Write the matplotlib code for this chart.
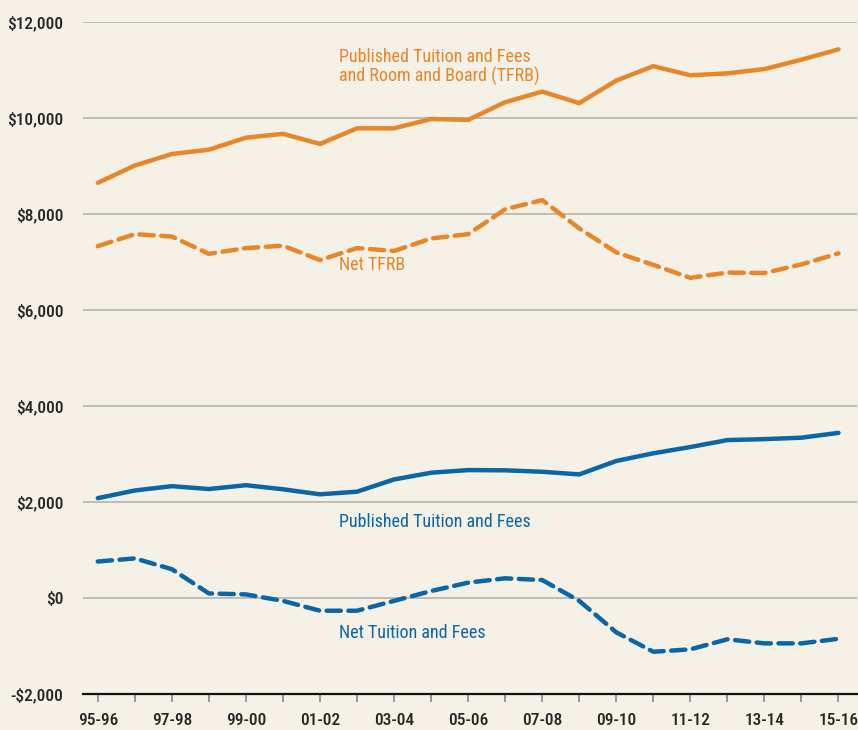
import matplotlib
matplotlib.use("Agg")
import matplotlib.pyplot as plt
from matplotlib import font_manager

years = ["95-96", "96-97", "97-98", "98-99", "99-00", "00-01", "01-02", "02-03",
         "03-04", "04-05", "05-06", "06-07", "07-08", "08-09", "09-10", "10-11",
         "11-12", "12-13", "13-14", "14-15", "15-16"]
published_tfrb = [8650, 9010, 9250, 9340, 9590, 9670, 9460, 9785, 9785, 9980, 9960,
                  10330, 10550, 10310, 10780, 11080, 10890, 10930, 11020, 11215, 11430]
net_tfrb = [7330, 7580, 7530, 7170, 7290, 7340, 7040, 7290, 7230, 7490, 7580,
            8100, 8290, 7700, 7200, 6940, 6670, 6780, 6770, 6950, 7180]
published_tf = [2080, 2240, 2330, 2270, 2350, 2265, 2160, 2215, 2470, 2610, 2665,
                2660, 2630, 2575, 2855, 3015, 3145, 3290, 3310, 3340, 3440]
net_tf = [760, 825, 600, 95, 75, -60, -265, -265, -60, 145, 320,
          410, 375, -60, -715, -1120, -1070, -860, -945, -945, -850]
ytick_vals = [-2000, 0, 2000, 4000, 6000, 8000, 10000, 12000]
ytick_labels = ["-$2,000", "$0", "$2,000", "$4,000", "$6,000", "$8,000", "$10,000", "$12,000"]

names = {f.name for f in font_manager.fontManager.ttflist}
fam = [f for f in ["Liberation Sans Narrow", "Roboto Condensed", "Roboto", "DejaVu Sans"] if f in names]
plt.rcParams['font.family'] = fam

BG = "#F6F1E6"
ORANGE = "#E8862A"
BLUE = "#0A66A6"
TXT = "#262626"

fig = plt.figure(figsize=(8.58, 7.30), dpi=100, facecolor=BG)
ax = fig.add_axes([83/858, 36/730, 774/858, 672/730], facecolor=BG)

x = list(range(len(years)))
lw = 3.2
ax.plot(x, published_tfrb, color=ORANGE, lw=lw, solid_capstyle='round', zorder=3)
ax.plot(x, net_tfrb, color=ORANGE, lw=lw, dashes=(3.2, 1.7), dash_capstyle='round', zorder=3)
ax.plot(x, published_tf, color=BLUE, lw=lw, solid_capstyle='round', zorder=3)
ax.plot(x, net_tf, color=BLUE, lw=lw, dashes=(3.2, 1.7), dash_capstyle='round', zorder=3)

ax.set_xlim(-0.4, 20.5)
ax.set_ylim(-2000, 12000)
ax.set_yticks(ytick_vals)
ax.set_yticklabels(ytick_labels)
ax.set_xticks(x)
ax.set_xticklabels([y if i % 2 == 0 else "" for i, y in enumerate(years)])

for v in ytick_vals[1:]:
    ax.axhline(v, color="#B5B3AE", lw=1.2, zorder=1)

for s in ["top", "right", "left"]:
    ax.spines[s].set_visible(False)
ax.spines["bottom"].set_color("#111111")
ax.spines["bottom"].set_linewidth(1.6)
ax.tick_params(axis='y', length=0, pad=14, labelsize=12.5, labelcolor=TXT)
ax.tick_params(axis='x', length=6, width=1.2, color="#888888", direction='out',
               pad=8, labelsize=12.5, labelcolor=TXT)
for lab in ax.get_xticklabels() + ax.get_yticklabels():
    lab.set_fontweight('medium')

fs = 13
tx = 6.52
ax.text(tx, 11060, "Published Tuition and Fees\nand Room and Board (TFRB)", color=ORANGE,
        fontsize=fs, ha='left', va='center', linespacing=1.1)
ax.text(tx, 6930, "Net TFRB", color=ORANGE, fontsize=fs, ha='left', va='center')
ax.text(tx, 1590, "Published Tuition and Fees", color=BLUE, fontsize=fs, ha='left', va='center')
ax.text(tx, -720, "Net Tuition and Fees", color=BLUE, fontsize=fs, ha='left', va='center')

fig.savefig("out.png", dpi=100, facecolor=BG)
